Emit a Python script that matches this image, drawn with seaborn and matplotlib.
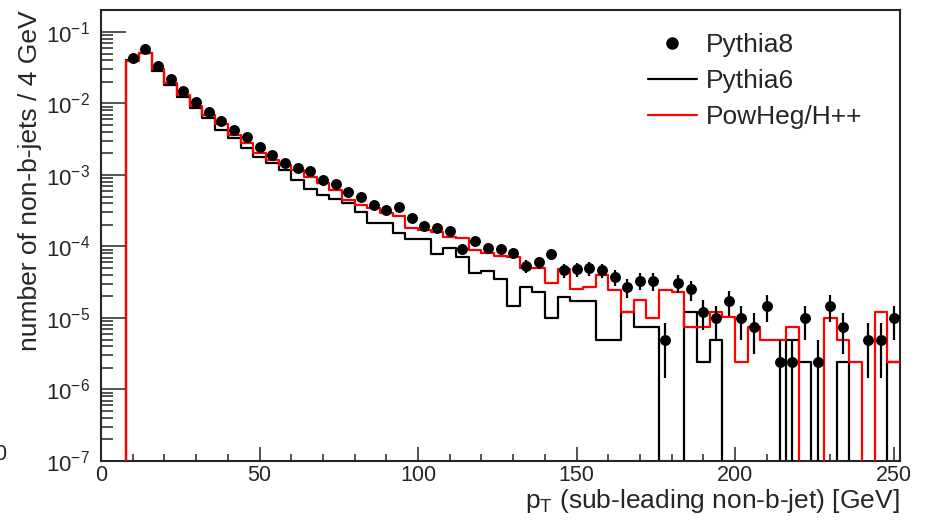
import numpy as np
import matplotlib
matplotlib.use("Agg")
import matplotlib.pyplot as plt
import seaborn as sns
from matplotlib.lines import Line2D
from matplotlib.ticker import LogLocator, MultipleLocator, NullFormatter

# 4 GeV bins from 0 to 252 GeV (63 bins)
bin_edges = np.arange(0, 253, 4)

pythia8 = [0, 0, 0.0429, 0.0573, 0.0338, 0.0218, 0.0151, 0.0104, 0.00754, 0.00574,
           0.00426, 0.00344, 0.00249, 0.00191, 0.00146, 0.00124, 0.00114,
           8.51e-4, 7.48e-4, 5.83e-4, 4.98e-4, 3.80e-4, 3.24e-4, 3.60e-4, 2.48e-4,
           1.94e-4, 1.80e-4, 1.65e-4,
           9.14e-5, 1.19e-4, 9.62e-5, 9.31e-5, 8.04e-5, 5.38e-5, 6.01e-5, 7.85e-5,
           4.69e-5, 4.80e-5, 4.95e-5, 4.69e-5, 3.78e-5, 2.74e-5, 3.33e-5, 3.30e-5,
           4.92e-6, 3.12e-5, 2.52e-5, 1.22e-5, 9.9e-6, 1.73e-5, 9.9e-6, 7.4e-6,
           1.47e-5, 2.46e-6, 2.46e-6, 9.9e-6, 2.46e-6, 1.47e-5, 7.4e-6, 0,
           4.92e-6, 4.92e-6, 9.9e-6]
pythia8_err = [0, 0, 3.25e-4, 3.75e-4, 2.88e-4, 2.32e-4, 1.93e-4, 1.60e-4, 1.36e-4, 1.19e-4,
               1.02e-4, 9.2e-5, 7.8e-5, 6.9e-5, 6.0e-5, 5.5e-5, 5.3e-5,
               4.6e-5, 4.3e-5, 3.8e-5, 3.5e-5, 3.06e-5, 2.82e-5, 2.98e-5, 2.47e-5,
               2.18e-5, 2.10e-5, 2.01e-5,
               1.50e-5, 1.71e-5, 1.54e-5, 1.51e-5, 1.41e-5, 1.15e-5, 1.22e-5, 1.39e-5,
               1.07e-5, 1.09e-5, 1.10e-5, 1.07e-5, 9.6e-6, 8.2e-6, 9.05e-6, 9.0e-6,
               3.48e-6, 8.76e-6, 7.87e-6, 5.5e-6, 4.92e-6, 6.5e-6, 4.92e-6, 4.26e-6,
               6.03e-6, 2.46e-6, 2.46e-6, 4.92e-6, 2.46e-6, 6.03e-6, 4.26e-6, 0,
               3.48e-6, 3.48e-6, 4.92e-6]
pythia6 = [0, 0, 0.0405, 0.0503, 0.0288, 0.0182, 0.01222, 0.00857, 0.00621, 0.00426,
           0.00326, 0.00236, 0.00180, 0.00146, 0.00117, 8.51e-4, 6.31e-4,
           5.25e-4, 4.57e-4, 4.02e-4, 3.07e-4, 2.15e-4, 2.15e-4, 1.56e-4, 1.26e-4,
           1.26e-4, 7.85e-5, 9.44e-5,
           7.19e-5, 4.22e-5, 4.59e-5, 3.51e-5, 1.47e-5, 2.74e-5, 2.33e-5, 9.9e-6,
           1.99e-5, 1.75e-5, 1.75e-5, 4.92e-6, 4.92e-6, 1.22e-5, 7.4e-6, 7.4e-6,
           0, 0, 1.23e-5, 2.46e-6, 4.92e-6, 0, 0, 0,
           0, 0, 4.92e-6, 2.46e-6, 0, 0, 2.46e-6, 0,
           0, 0, 2.46e-6]
powheg = [0, 0, 0.0393, 0.0513, 0.0301, 0.0195, 0.01315, 0.00923, 0.00690, 0.00516,
          0.00362, 0.00277, 0.00201, 0.00162, 0.00138, 0.00117, 9.38e-4,
          7.73e-4, 6.17e-4, 4.47e-4, 3.80e-4, 3.45e-4, 2.94e-4, 2.67e-4, 1.82e-4,
          1.70e-4, 1.60e-4, 1.36e-4,
          1.32e-4, 8.93e-5, 8.11e-5, 7.36e-5, 7.2e-5, 4.95e-5, 4.95e-5, 3.05e-5,
          4.80e-5, 2.52e-5, 2.74e-5, 3.99e-5, 2.47e-5, 1.22e-5, 1.79e-5, 9.9e-6,
          2.47e-5, 2.33e-5, 7.4e-6, 7.4e-6, 1.22e-5, 1.02e-5, 2.46e-6, 7.4e-6,
          4.92e-6, 4.92e-6, 7.4e-6, 0, 0, 9.9e-6, 4.92e-6, 2.46e-6,
          0, 1.23e-5, 2.46e-6]

sns.set_style("ticks")
plt.rcParams["font.family"] = ["Liberation Sans", "DejaVu Sans"]
plt.rcParams["mathtext.fontset"] = "custom"
plt.rcParams["mathtext.rm"] = "Liberation Sans"
plt.rcParams["mathtext.it"] = "Liberation Sans"

fig = plt.figure(figsize=(9.26, 5.24), dpi=100)
ax = fig.add_axes([101 / 926, 1 - 461 / 524, 799 / 926, 451 / 524])
ax.set_yscale("log")

centers = (bin_edges[:-1] + bin_edges[1:]) / 2
floor = 1e-9  # empty bins drop below the axis


def step_line(values, color, z):
    v = np.where(np.array(values) > 0, values, floor)
    y = np.append(v, v[-1])
    sns.lineplot(x=bin_edges, y=y, drawstyle="steps-post", color=color,
                 linewidth=1.6, estimator=None, sort=False, ax=ax, zorder=z)


step_line(pythia6, "black", 2)
step_line(powheg, "red", 3)

p8 = np.array(pythia8)
err = np.array(pythia8_err)
m = p8 > 0
lo = np.minimum(err[m], p8[m] - 1e-12)
ax.errorbar(centers[m], p8[m], yerr=[lo, err[m]], fmt="none", ecolor="black",
            elinewidth=1.6, capsize=0, zorder=4)
sns.scatterplot(x=centers[m], y=p8[m], color="black", s=62, edgecolor="black",
                linewidth=0, ax=ax, zorder=5)

ax.set_xlim(0, 252)
ax.set_ylim(1e-7, 0.203)

ax.xaxis.set_major_locator(MultipleLocator(50))
ax.xaxis.set_minor_locator(MultipleLocator(10))
ax.yaxis.set_major_locator(LogLocator(base=10, numticks=20))
ax.yaxis.set_minor_locator(LogLocator(base=10, subs=np.arange(2, 10), numticks=20))
ax.yaxis.set_minor_formatter(NullFormatter())
ax.tick_params(axis="y", which="major", direction="in", length=18, width=1.1,
               labelsize=16, pad=8)
ax.tick_params(axis="y", which="minor", direction="in", length=8.5, width=1.1)
ax.tick_params(axis="x", which="major", direction="in", length=10, width=1.1,
               labelsize=15.5, pad=3)
ax.tick_params(axis="x", which="minor", direction="in", length=5, width=1.1)
for s in ax.spines.values():
    s.set_linewidth(1.5)

ax.set_xlabel("p$_{\\mathrm{T}}$ (sub-leading non-b-jet) [GeV]", fontsize=19, loc="right")
ax.xaxis.set_label_coords(1.0, -0.058)
ax.set_ylabel("number of non-b-jets / 4 GeV", fontsize=19, loc="top")
ax.yaxis.set_label_coords(-0.074, 1.0)

handles = [
    Line2D([], [], marker="o", color="black", linestyle="none", markersize=8),
    Line2D([], [], color="black", linewidth=1.6),
    Line2D([], [], color="red", linewidth=1.6),
]
ax.legend(handles, ["Pythia8", "Pythia6", "PowHeg/H++"], frameon=False, fontsize=19,
          loc="upper left", bbox_to_anchor=(648 / 926, 1 - 33 / 524),
          bbox_transform=fig.transFigure, borderpad=0, borderaxespad=0,
          handlelength=1.85, handletextpad=0.35, labelspacing=0.45)

# clipped tick label at the left edge of the original image
fig.text(0.0, 1 - 455 / 524, "0", ha="center", va="center", fontsize=15.5)

fig.savefig("out.png", dpi=100)
